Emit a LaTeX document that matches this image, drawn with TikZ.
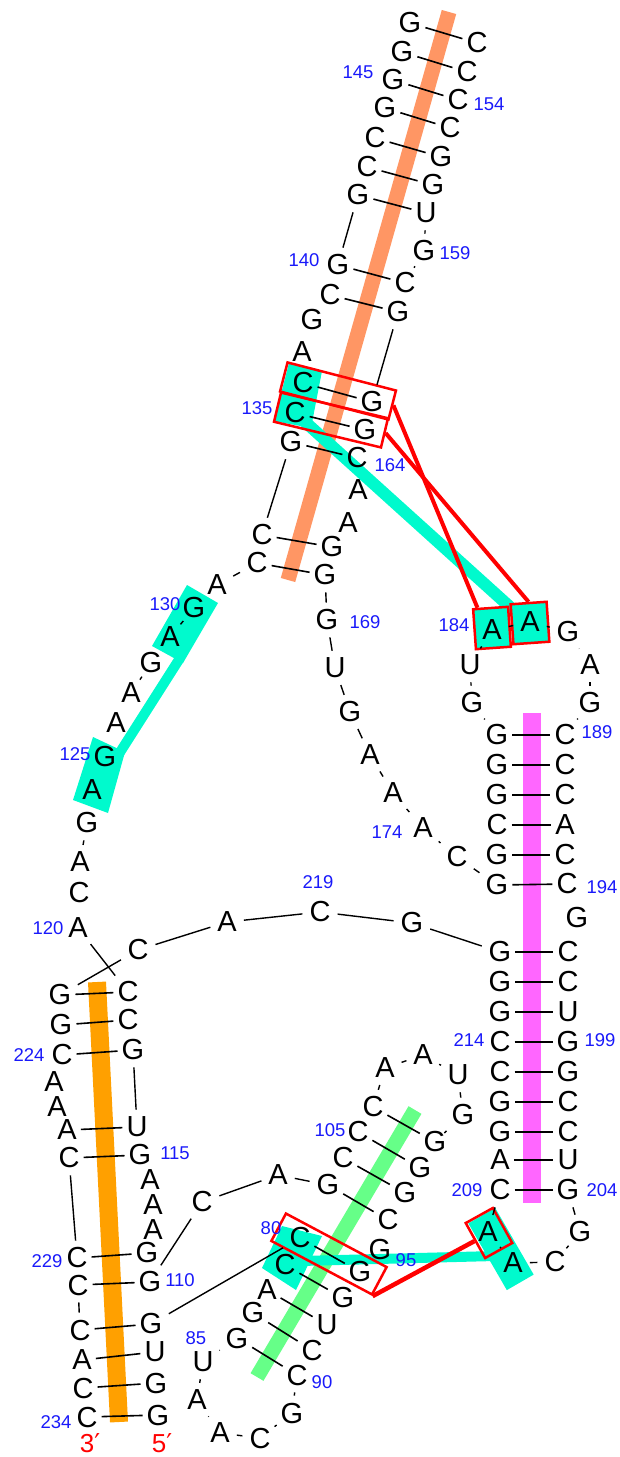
\documentclass[tikz,border=0pt]{standalone}
\usepackage{fontspec}
\setmainfont{Liberation Sans}
\newfontfamily\djv{DejaVu Sans}
\usetikzlibrary{calc}
\definecolor{numblue}{RGB}{25,25,250}
\definecolor{salmonband}{RGB}{255,150,100}
\definecolor{cyanhl}{RGB}{0,250,205}
\definecolor{pinkband}{RGB}{255,102,255}
\definecolor{greenband}{RGB}{102,255,136}
\definecolor{orangeband}{RGB}{255,160,0}
\definecolor{redbox}{RGB}{255,0,0}
\pgfdeclarelayer{bg}
\pgfdeclarelayer{mid}
\pgfsetlayers{bg,mid,main}
\newcommand\bblink[2]{%
  \path let \p1=($(#2)-(#1)$) in \pgfextra{\pgfmathsetmacro\bbdist{veclen(\x1,\y1)}\global\let\bbdistg\bbdist};%
  \ifdim\bbdistg pt>36pt\relax\draw[bb] (#1) -- (#2);\fi}
\begin{document}
\begin{tikzpicture}[x=1pt,y=-1pt,
  nt/.style={font=\fontsize{29}{29}\selectfont, inner sep=2pt},
  num/.style={font=\fontsize{18.5}{18.5}\selectfont, text=numblue, inner sep=0pt},
  endlab/.style={font=\fontsize{26}{26}\selectfont, text=redbox, inner sep=0pt},
  bp/.style={line width=1.6pt, shorten <=2pt, shorten >=2pt},
  bb/.style={line width=1.4pt, shorten <=5pt, shorten >=5pt},
  hlband/.style={line width=#1, line cap=butt},
  rbox/.style={draw=redbox, line width=2.5pt, inner sep=0pt},
  redline/.style={draw=redbox, line width=4pt},
  cyanrect/.style={fill=cyanhl, inner sep=0pt}
]
\useasboundingbox (0,0) rectangle (619,1457);

% nucleotides
\foreach \n/\l/\px/\py in {76/G/158/1415, 77/G/156/1383, 78/U/155/1352, 79/G/151/1324, 80/C/300/1238, 81/C/285/1265, 82/A/267/1290, 83/G/253/1313, 84/G/237/1338, 85/U/203/1362, 86/A/197/1400, 87/A/220/1433, 88/C/260/1438, 89/G/292/1413, 90/C/297/1375, 91/C/312/1350, 92/U/327/1325, 93/G/343/1298, 94/G/360/1272, 95/G/380/1250, 96/C/388/1220, 97/G/405/1193, 98/G/420/1168, 99/G/435/1142, 100/G/463/1115, 101/U/458/1075, 102/A/423/1055, 103/A/385/1068, 104/C/373/1107, 105/C/358/1132, 106/C/343/1158, 107/G/328/1185, 108/A/278/1175, 109/C/202/1202, 110/G/150/1282, 111/G/147/1253, 112/A/153/1230, 113/A/153/1205, 114/A/150/1180, 115/G/140/1155, 116/U/137/1127, 117/G/133/1050, 118/C/128/1020, 119/C/128/992, 120/A/78/928, 121/C/79/893, 122/A/80/862, 123/G/87/823, 124/A/92/790, 125/G/105/757, 126/A/116/723, 127/A/131/693, 128/G/151/663, 129/A/170/637, 130/G/194/608, 131/A/217/585, 132/C/257/563, 133/C/262/535, 134/G/291/442, 135/C/295/413, 136/C/303/383, 137/A/302/352, 138/G/312/320, 139/C/330/295, 140/G/338/265, 141/G/358/195, 142/C/367/167, 143/C/375/138, 144/G/385/108, 145/G/393/80, 146/G/402/52, 147/G/410/23, 152/C/477/43, 153/C/467/72, 154/C/458/100, 155/C/450/128, 156/G/441/157, 157/G/433/185, 158/U/426/213, 159/G/424/251, 160/C/405/283, 161/G/398/312, 162/G/372/402, 163/G/365/430, 164/C/357/458, 165/A/358/490, 166/A/348/523, 167/G/332/547, 168/G/325/575, 169/G/327/620, 170/U/335/668, 171/G/350/712, 172/A/370/755, 173/A/393/793, 174/A/423/828, 175/C/457/857, 176/G/497/885, 177/G/497/855, 178/C/497/825, 179/G/497/795, 180/G/497/765, 181/G/497/735, 182/G/472/703, 183/U/470/665, 184/A/492/630, 185/A/530/622, 186/G/568/632, 187/A/590/665, 188/G/590/703, 189/C/565/735, 190/C/565/765, 191/C/565/795, 192/A/565/825, 193/C/565/855, 194/C/567/884, 195/G/577/918, 196/C/568/952, 197/C/568/982, 198/U/568/1012, 199/G/568/1042, 200/G/568/1072, 201/C/568/1102, 202/C/568/1132, 203/U/568/1160, 204/G/568/1190, 205/G/580/1232, 206/C/555/1262, 207/A/513/1263, 208/A/488/1232, 209/C/500/1190, 210/A/500/1160, 211/G/500/1132, 212/G/500/1102, 213/C/500/1072, 214/C/500/1042, 215/G/500/1012, 216/G/500/982, 217/G/500/952, 218/G/412/923, 219/C/320/912, 220/A/227/922, 221/C/138/950, 222/G/60/995, 223/G/61/1025, 224/C/62/1055, 225/A/54/1082, 226/A/57/1107, 227/A/67/1130, 228/C/69/1158, 229/C/77/1258, 230/C/78/1285, 231/C/80/1330, 232/A/82/1360, 233/C/83/1388, 234/C/87/1417}
  {\node[nt] (n\n) at (\px,\py) {\l};}

% backbone (only where the gap is visible)
\foreach \i in {76,...,146} {\pgfmathtruncatemacro\j{\i+1}\bblink{n\i}{n\j}}
\foreach \i in {152,...,233} {\pgfmathtruncatemacro\j{\i+1}\bblink{n\i}{n\j}}

% base pairs
\foreach \a/\b in {76/234, 77/233, 78/232, 79/231, 110/230, 111/229, 115/228, 116/227, 117/224, 118/223, 119/222,
  80/94, 81/93, 82/92, 83/91, 84/90, 107/96, 106/97, 105/98, 104/99,
  217/196, 216/197, 215/198, 214/199, 213/200, 212/201, 211/202, 210/203, 209/204,
  181/189, 180/190, 179/191, 178/192, 177/193, 176/194,
  132/168, 133/167, 134/164, 135/163, 136/162, 140/160, 139/161, 141/158, 142/157, 143/156, 144/155, 145/154, 146/153, 147/152}
  {\draw[bp] (n\a) -- (n\b);}

% position numbers
\foreach \t/\px/\py in {145/358/72, 154/489/104, 159/455/253, 140/304/260, 135/257/408, 164/390/465, 169/365/622, 130/165/604, 125/75/754, 184/454/625, 189/597/732, 174/387/832, 194/602/887, 219/318/882, 120/48/928, 224/29/1055, 214/469/1040, 199/600/1040, 115/175/1153, 105/330/1130, 209/467/1190, 204/602/1190, 229/47/1261, 110/180/1280, 80/271/1228, 95/406/1260, 85/196/1338, 90/322/1382, 234/56/1422}
  {\node[num] (l\t) at (\px,\py) {\t};}

\node[endlab] (three) at (90,1443) {3{\djv ′}};
\node[endlab] (five) at (162,1443) {5{\djv ′}};

% background highlights
\begin{pgfonlayer}{bg}
\draw[hlband=15pt, salmonband] (449,12) -- (288,580);
\draw[hlband=18pt, pinkband] (532,713) -- (532,1203);
\draw[hlband=15pt, greenband] (415,1110) -- (257,1377);
\draw[hlband=18pt, orangeband] (97,982) -- (119,1422);
\fill[cyanhl] (289,363) -- (322,371) -- (311,428) -- (274,421) -- cycle;
\draw[hlband=12pt, cyanhl] (303,420) -- (520,616);
\fill[cyanhl] (187,585) -- (218,603) -- (183,663) -- (152,646) -- cycle;
\fill[cyanhl] (93,737) -- (125,752) -- (108,813) -- (73,800) -- cycle;
\draw[hlband=10pt, cyanhl] (180,658) -- (117,757);
\fill[cyanhl] (282,1226) -- (322,1236) -- (296,1290) -- (262,1268) -- cycle;
\draw[hlband=10pt, cyanhl] (300,1261) -- (495,1256);
\node[cyanrect, rotate=30, minimum width=31pt, minimum height=77pt] (cy208) at (501,1249) {};
\end{pgfonlayer}

% red boxes and links
\begin{pgfonlayer}{mid}
\node[rbox, rotate=-14.5, minimum width=112pt, minimum height=30pt] (bx1) at (338,391) {};
\node[rbox, rotate=-13.5, minimum width=110pt, minimum height=30pt] (bx2) at (331,420) {};
\node[rbox, fill=cyanhl, rotate=4, minimum width=35pt, minimum height=40pt] (b184) at (492,628) {};
\node[rbox, fill=cyanhl, rotate=4, minimum width=36pt, minimum height=40pt] (b185) at (530,623) {};
\node[rbox, rotate=-28, minimum width=114pt, minimum height=31pt] (bx80) at (329,1254) {};
\node[rbox, rotate=29, minimum width=31pt, minimum height=40pt] (b208) at (489,1233) {};
\draw[redline] (bx1.east) -- ($(b184.north west)!0.15!(b184.north east)$);
\draw[redline] (bx2.east) -- (b185.north);
\draw[redline, line width=4.5pt] (b208.west) -- (bx80.south east);
\end{pgfonlayer}
\end{tikzpicture}
\end{document}
